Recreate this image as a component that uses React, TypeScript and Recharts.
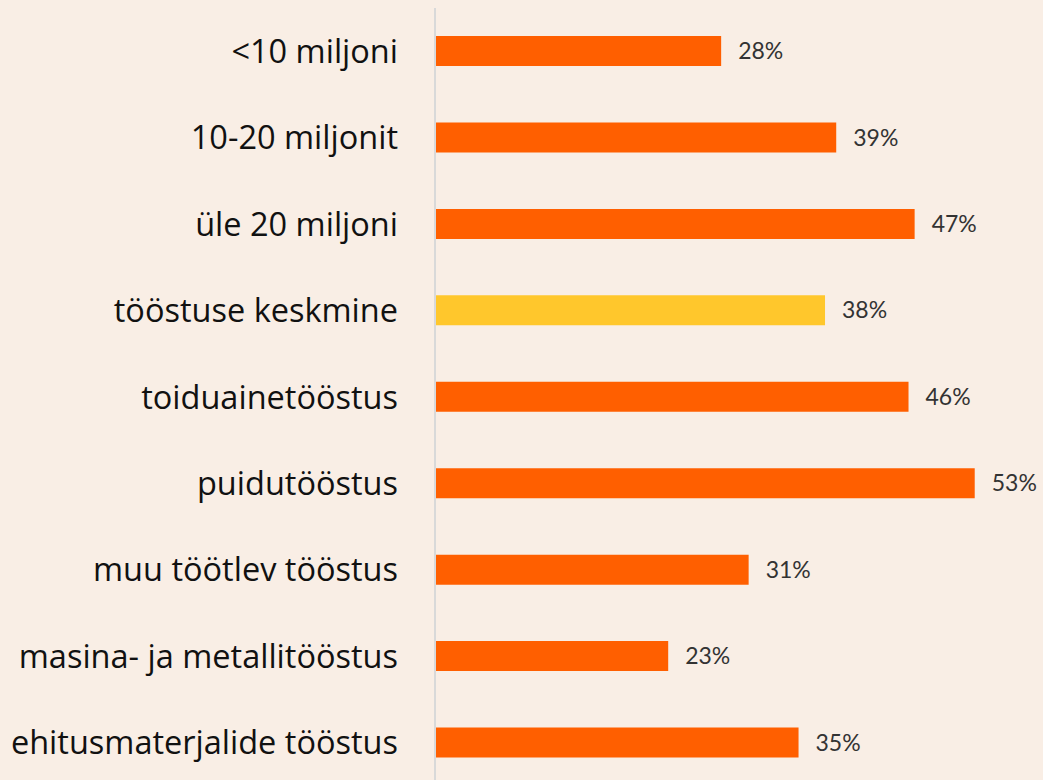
import React from "react";
import { BarChart, Bar, XAxis, YAxis, Cell, LabelList } from "recharts";

const categories = [
    "<10 miljoni",
    "10-20 miljonit",
    "üle 20 miljoni",
    "tööstuse keskmine",
    "toiduainetööstus",
    "puidutööstus",
    "muu töötlev tööstus",
    "masina- ja metallitööstus",
    "ehitusmaterjalide tööstus",
];

// bar lengths (unrounded)
const shares = [28.1, 39.4, 47.1, 38.3, 46.5, 53.0, 30.8, 22.9, 35.7];

// labels as printed next to each bar
const shareLabels = ["28%", "39%", "47%", "38%", "46%", "53%", "31%", "23%", "35%"];

const highlight = "tööstuse keskmine";

const ORANGE = "#FF5F00";
const YELLOW = "#FFC72C";
const BG = "#F9EEE5";

const data = categories.map((name, i) => ({
    name,
    value: shares[i],
    label: shareLabels[i],
}));

const App: React.FC = () => {
    return (
        <div
            style={{
                position: "fixed",
                left: 0,
                top: 0,
                width: 1043,
                height: 780,
                overflow: "hidden",
                background: BG,
                fontFamily: "Lato, sans-serif",
            }}
        >
            <BarChart
                width={1050}
                height={790}
                data={data}
                layout="vertical"
                margin={{ top: 8, right: 4, bottom: 4, left: 0 }}
                barCategoryGap={0}
            >
                <XAxis type="number" domain={[0, 60]} hide />
                <YAxis
                    type="category"
                    dataKey="name"
                    width={435}
                    tickSize={0}
                    tickMargin={37}
                    tickLine={false}
                    axisLine={{ stroke: "#D9D9D9", strokeWidth: 2 }}
                    tick={{ fill: "#111111", fontSize: 32.5, fontFamily: "'Open Sans', sans-serif" }}
                    interval={0}
                />
                <Bar dataKey="value" barSize={30} isAnimationActive={false}>
                    {data.map((d) => (
                        <Cell key={d.name} fill={d.name === highlight ? YELLOW : ORANGE} />
                    ))}
                    <LabelList
                        dataKey="label"
                        position="right"
                        offset={17}
                        style={{ fill: "#333333", fontSize: 23 }}
                    />
                </Bar>
            </BarChart>
        </div>
    );
};

export default App;
